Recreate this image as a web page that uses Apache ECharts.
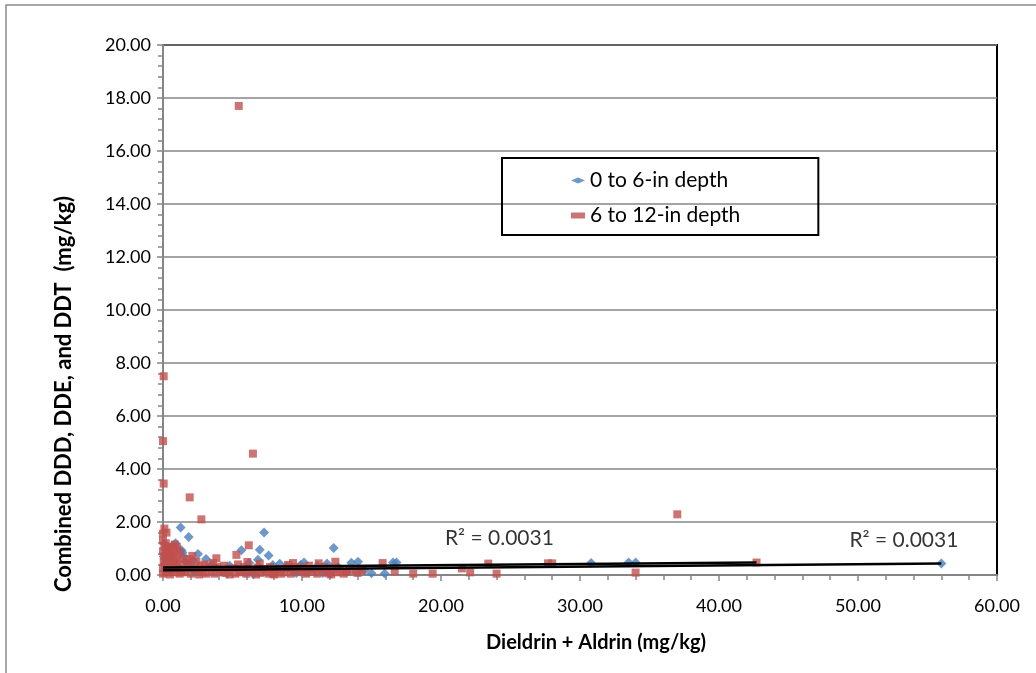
<!DOCTYPE html>
<html>
<head>
<meta charset="utf-8">
<script src="https://cdn.jsdelivr.net/npm/echarts@6/dist/echarts.min.js"></script>
<style>
  html, body { margin: 0; padding: 0; background: #fff; }
  #chart { width: 1036px; height: 673px; }
</style>
</head>
<body>
<div id="chart"></div>
<script>
// series names
const seriesNames = ["0 to 6-in depth", "6 to 12-in depth"];

// 0 to 6-in depth: [Dieldrin + Aldrin, Combined DDD/DDE/DDT]
const shallowPoints = [
  [1.27, 1.79], [7.27, 1.6], [1.85, 1.43], [12.28, 1.02], [6.96, 0.95], [5.64, 0.93],
  [1.32, 0.93], [1.1, 0.98], [0.24, 0.93], [0.12, 1.18], [0.5, 1.05], [7.6, 0.74],
  [2.52, 0.79], [6.83, 0.58], [10.15, 0.47], [11.8, 0.43], [13.55, 0.46], [14.03, 0.5],
  [16.55, 0.47], [16.8, 0.47], [15.0, 0.07], [15.95, 0.06], [10.43, 0.11], [8.88, 0.33],
  [30.8, 0.45], [33.5, 0.47], [34.0, 0.47], [56.0, 0.43],
  [0.1, 0.4], [0.3, 0.6], [0.6, 0.8], [0.8, 0.55], [1.5, 0.7], [2.0, 0.3], [2.8, 0.2],
  [3.5, 0.4], [4.2, 0.15], [4.8, 0.35], [5.3, 0.25], [6.2, 0.45], [7.2, 0.2], [8.1, 0.12],
  [9.0, 0.28], [9.6, 0.08], [10.9, 0.2], [11.5, 0.08], [12.6, 0.3], [3.1, 0.6], [0.9, 1.2],
  [0.05, 0.7], [2.3, 0.1], [5.9, 0.1], [13.2, 0.12], [14.5, 0.18], [1.0, 0.35], [0.4, 0.15],
  [4.6, 0.05], [6.5, 0.03], [8.4, 0.42], [12.0, 0.05], [3.9, 0.25], [0.7, 1.1], [1.6, 0.5],
  [1.4, 0.85], [0.35, 0.8], [2.2, 0.55], [7.9, 0.38], [9.9, 0.38], [11.1, 0.35]
];

// 6 to 12-in depth
const deepPoints = [
  [5.45, 17.7], [0.05, 7.5], [0.0, 5.05], [0.05, 3.45], [6.47, 4.58], [1.92, 2.93],
  [2.76, 2.1], [37.0, 2.29], [0.1, 1.75], [0.0, 1.56], [0.25, 1.6], [0.84, 1.15],
  [6.17, 1.12], [2.11, 0.72], [5.28, 0.76], [3.84, 0.63], [1.44, 0.6], [6.07, 0.49],
  [9.35, 0.45], [11.2, 0.44], [12.4, 0.5], [6.96, 0.43], [13.43, 0.18], [13.9, 0.18],
  [14.3, 0.18], [15.8, 0.45], [16.67, 0.14], [18.0, 0.05], [19.4, 0.05], [21.5, 0.25],
  [22.1, 0.1], [23.4, 0.43], [24.0, 0.05], [27.7, 0.44], [28.0, 0.44], [34.0, 0.09],
  [42.7, 0.47],
  [0.0, 1.3], [0.1, 1.1], [0.3, 1.0], [0.2, 0.85], [0.5, 0.9], [0.7, 0.75], [0.4, 0.6],
  [0.05, 0.5], [0.9, 0.55], [0.15, 0.35], [1.1, 0.4], [0.6, 0.3], [1.3, 0.25], [0.3, 0.2],
  [0.8, 0.1], [0.0, 0.05], [0.5, 0.02], [1.0, 0.7], [0.2, 1.2], [0.6, 1.05],
  [0.0, 0.9], [0.1, 0.7], [0.35, 0.45], [0.55, 0.65], [0.75, 0.95], [1.2, 0.85],
  [0.0, 0.25], [0.25, 0.1], [0.45, 0.3], [0.95, 0.2], [1.4, 0.1], [1.0, 1.05],
  [1.6, 0.15], [2.0, 0.05], [2.4, 0.2], [2.9, 0.1], [3.3, 0.3], [3.7, 0.05], [4.1, 0.18],
  [4.5, 0.08], [5.0, 0.25], [5.5, 0.1], [6.0, 0.05], [6.5, 0.2], [7.0, 0.08], [7.4, 0.15],
  [7.9, 0.05], [8.3, 0.22], [8.7, 0.1], [9.2, 0.05], [9.8, 0.15], [10.3, 0.05], [10.8, 0.12],
  [11.4, 0.2], [11.9, 0.06], [12.5, 0.1], [13.0, 0.05], [3.0, 0.4], [4.4, 0.35], [5.8, 0.3],
  [7.7, 0.3], [10.0, 0.28], [11.6, 0.3], [1.8, 0.35], [2.6, 0.02], [4.8, 0.02], [8.0, 0.02],
  [9.5, 0.3], [12.2, 0.25], [1.2, 0.05], [3.5, 0.15], [6.8, 0.28],
  [1.7, 0.45], [2.2, 0.25], [2.7, 0.35], [3.1, 0.05], [3.9, 0.3], [4.3, 0.1], [4.7, 0.2],
  [5.2, 0.05], [5.7, 0.18], [6.3, 0.12], [6.7, 0.02], [7.2, 0.22], [7.6, 0.05], [8.1, 0.15],
  [8.5, 0.05], [8.9, 0.25], [9.4, 0.15], [10.1, 0.1], [10.6, 0.22], [11.1, 0.05], [11.7, 0.12],
  [12.1, 0.02], [12.7, 0.2], [13.2, 0.12], [14.0, 0.08], [2.4, 0.5], [3.6, 0.45], [5.4, 0.4],
  [9.0, 0.38], [10.5, 0.35], [0.8, 0.45], [1.9, 0.6]
];

// linear trendlines (endpoints at the series' x range)
const shallowTrend = [[0, 0.18], [56.0, 0.43]];
const deepTrend = [[0, 0.28], [42.7, 0.47]];

// R² label anchors
const r2Labels = [[24.2, 1.38], [53.3, 1.32]];
const r2Text = "R² = 0.0031";

const xTitle = "Dieldrin + Aldrin (mg/kg)";
const yTitle = "Combined DDD, DDE, and DDT  (mg/kg)";

const xMax = 60, xStep = 10;
const yMax = 20, yStep = 2;

const font = "Lato, 'Open Sans', sans-serif";
const chart = echarts.init(document.getElementById("chart"));

chart.setOption({
  animation: false,
  backgroundColor: "#fff",
  textStyle: { fontFamily: font },
  graphic: [
    {
      type: "rect",
      shape: { x: 6, y: 5, width: 1100, height: 800 },
      style: { fill: "none", stroke: "#8c8c8c", lineWidth: 1.5 },
      silent: true
    },
    {
      type: "text", x: 596, y: 643,
      style: {
        text: xTitle, fontSize: 20, fontWeight: "bold", fontFamily: font,
        fill: "#000", align: "center", verticalAlign: "middle"
      }
    },
    {
      type: "text", x: 64, y: 394, rotation: Math.PI / 2,
      style: {
        text: yTitle, fontSize: 22, fontWeight: "bold", fontFamily: font,
        fill: "#000", align: "center", verticalAlign: "middle"
      }
    }
  ],
  grid: {
    left: 163, right: 39, top: 45, bottom: 98,
    show: true, borderColor: "#000", borderWidth: 2, backgroundColor: "transparent"
  },
  legend: {
    data: seriesNames,
    orient: "vertical",
    left: 502, top: 158,
    padding: [12, 78, 9, 69],
    itemGap: 14,
    itemWidth: 14, itemHeight: 6,
    borderColor: "#000", borderWidth: 2,
    textStyle: { fontSize: 21, color: "#000", fontFamily: font, lineHeight: 20 }
  },
  xAxis: {
    type: "value", min: 0, max: xMax, interval: xStep,
    axisLine: { show: true, onZero: false, lineStyle: { color: "#868686", width: 2 } },
    axisTick: { show: true, length: 6, lineStyle: { color: "#868686", width: 1.5 } },
    minorTick: { show: true, splitNumber: 5, length: 5, lineStyle: { color: "#868686", width: 1.5 } },
    axisLabel: { fontSize: 18, color: "#000", margin: 22, formatter: v => v.toFixed(2) },
    splitLine: { show: false }
  },
  yAxis: {
    type: "value", min: 0, max: yMax, interval: yStep,
    axisLine: { show: true, lineStyle: { color: "#868686", width: 2 } },
    axisTick: { show: true, length: 6, lineStyle: { color: "#868686", width: 1.5 } },
    minorTick: { show: true, splitNumber: 5, length: 5, lineStyle: { color: "#868686", width: 1.5 } },
    axisLabel: { fontSize: 18, color: "#000", margin: 12, formatter: v => v.toFixed(2) },
    splitLine: { show: true, lineStyle: { color: "#868686", width: 1.5 } }
  },
  series: [
    {
      name: seriesNames[0], type: "scatter", data: shallowPoints,
      symbol: "diamond", symbolSize: 10,
      itemStyle: { color: "#4a7ebb" }, z: 3
    },
    {
      name: seriesNames[1], type: "scatter", data: deepPoints,
      symbol: "rect", symbolSize: 8,
      itemStyle: { color: "#c0504d" }, z: 4
    },
    {
      name: "trend1", type: "line", data: shallowTrend, symbol: "none",
      lineStyle: { color: "#000", width: 2.5 }, z: 5, silent: true
    },
    {
      name: "trend2", type: "line", data: deepTrend, symbol: "none",
      lineStyle: { color: "#000", width: 2.5 }, z: 5, silent: true
    },
    {
      name: "r2", type: "scatter", data: r2Labels, symbolSize: 0, silent: true,
      label: {
        show: true, position: "inside", formatter: r2Text,
        fontSize: 21, color: "#000", fontFamily: font
      }
    }
  ]
});
</script>
</body>
</html>
